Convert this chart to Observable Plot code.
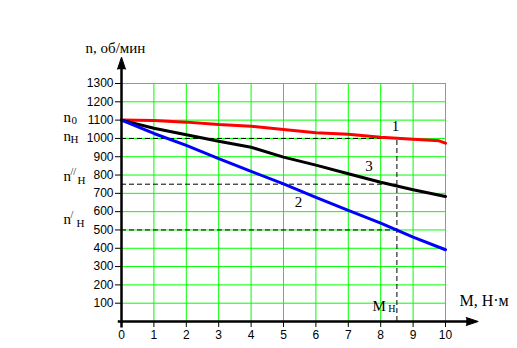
<!DOCTYPE html>
<html><head><meta charset="utf-8">
<script src="https://cdn.jsdelivr.net/npm/d3@7"></script>
<script src="https://cdn.jsdelivr.net/npm/@observablehq/plot@0.6"></script>
<style>html,body{margin:0;padding:0;background:#fff}</style>
</head><body><div id="chart"></div>
<script>
// Data
const torqueRed   = [0,1,2,3,4,5,6,7,8,9,9.8,10];
const speedRed    = [1100,1098,1089,1076,1067,1049,1031,1023,1007,995,987,974];   // curve 1
const torque      = [0,1,2,3,4,5,6,7,8,9,10];
const speedBlack  = [1100,1056,1020,985,952,898,854,807,761,720,683];            // curve 3
const speedBlue   = [1100,1027,962,890,820,752,678,607,537,461,392];             // curve 2
const xTicks = [0,1,2,3,4,5,6,7,8,9,10];
const yTicks = [100,200,300,400,500,600,700,800,900,1000,1100,1200,1300];
const ratedTorque = 8.5;
const ratedLevels = [1000, 750, 500];
const ratedTop = 1005;

// Annotations
const curveLabels = [{t:"1", x:8.46, y:1038}, {t:"3", x:7.64, y:820}, {t:"2", x:5.46, y:623}];
const leftLabels = [
  {base:"n", sup:"",   sub:"0", y:1089, subDx:-50, subDy:2},
  {base:"n", sup:"",   sub:"Н", y:984,  subDx:-51, subDy:2},
  {base:"n", sup:"//", sub:"Н", y:770,  subDx:-44, subDy:3},
  {base:"n", sup:"/",  sub:"Н", y:535,  subDx:-45, subDy:3}
];

const serif = "'Liberation Serif','Times New Roman',serif";
const redRows = torqueRed.map((m,i)=>({m, n:speedRed[i]}));
const blackRows = torque.map((m,i)=>({m, n:speedBlack[i]}));
const blueRows = torque.map((m,i)=>({m, n:speedBlue[i]}));

const chart = Plot.plot({
  width: 517, height: 348,
  marginLeft: 121, marginRight: 72, marginTop: 83, marginBottom: 27,
  x: {domain: [0,10]},
  y: {domain: [0,1300]},
  style: {fontFamily: "'Liberation Sans',Arial,sans-serif", fontSize: "12px", background: "#fff", overflow: "visible"},
  marks: [
    // grid
    Plot.ruleX(xTicks.filter(d=>d>0), {y1: 0, y2: 1300, stroke: "#00ff00", strokeWidth: 1}),
    Plot.ruleY(yTicks, {x1: 0, x2: 10, stroke: "#00ff00", strokeWidth: 1}),
    // dashed rated lines
    Plot.ruleY(ratedLevels, {x1: 0, x2: ratedTorque, stroke: "#000", strokeWidth: 1, strokeDasharray: "5,3"}),
    Plot.ruleX([ratedTorque], {y1: 0, y2: ratedTop, stroke: "#000", strokeWidth: 1, strokeDasharray: "5,3"}),
    // curves
    Plot.line(redRows, {x: "m", y: "n", stroke: "#ff0000", strokeWidth: 3}),
    Plot.line(blackRows, {x: "m", y: "n", stroke: "#000", strokeWidth: 3}),
    Plot.line(blueRows, {x: "m", y: "n", stroke: "#0000ff", strokeWidth: 3}),
    // axes lines
    Plot.ruleY([0], {x1: -0.1, x2: 10.7, stroke: "#000", strokeWidth: 2.5}),
    Plot.ruleX([0], {y1: -35, y2: 1400, stroke: "#000", strokeWidth: 2.5}),
    Plot.vector([{x: 11.01, y: 0}], {x: "x", y: "y", rotate: 90, length: 12, r: 4, shape: "spike", anchor: "end", fill: "#000", stroke: "#000", strokeWidth: 1}),
    Plot.vector([{x: 0, y: 1444}], {x: "x", y: "y", rotate: 0, length: 12, r: 4, shape: "spike", anchor: "end", fill: "#000", stroke: "#000", strokeWidth: 1}),
    // ticks
    Plot.axisX({ticks: xTicks, tickSize: 6, tickPadding: 3, label: null, tickFormat: d => String(d)}),
    Plot.axisY({ticks: yTicks, tickSize: 6, tickPadding: 2, label: null, tickFormat: d => String(d)}),
    // curve labels
    Plot.text(curveLabels, {x: "x", y: "y", text: "t", fontFamily: serif, fontSize: 15, lineAnchor: "bottom"}),
    // left labels
    Plot.text(leftLabels, {y: "y", text: "base", frameAnchor: "left", dx: -58, textAnchor: "start", lineAnchor: "bottom", fontFamily: serif, fontSize: 15}),
    Plot.text(leftLabels, {y: "y", text: "sup", frameAnchor: "left", dx: -51, dy: -6, textAnchor: "start", lineAnchor: "bottom", fontFamily: serif, fontSize: 10}),
    ...leftLabels.map(l => Plot.text([l], {y: "y", text: "sub", frameAnchor: "left", dx: l.subDx, dy: l.subDy, textAnchor: "start", lineAnchor: "bottom", fontFamily: serif, fontSize: 11})),
    // axis titles
    Plot.text(["n, об/мин"], {x: -1.11, y: 1464, textAnchor: "start", lineAnchor: "bottom", fontFamily: serif, fontSize: 15}),
    Plot.text(["M, Н·м"], {x: 10.43, y: 87, textAnchor: "start", lineAnchor: "bottom", fontFamily: serif, fontSize: 16}),
    Plot.text(["M"], {x: 7.75, y: 60, textAnchor: "start", lineAnchor: "bottom", fontFamily: serif, fontSize: 15}),
    Plot.text(["Н"], {x: 8.23, y: 50, textAnchor: "start", lineAnchor: "bottom", fontFamily: serif, fontSize: 10})
  ]
});
document.getElementById("chart").appendChild(chart);
</script>
</body></html>
